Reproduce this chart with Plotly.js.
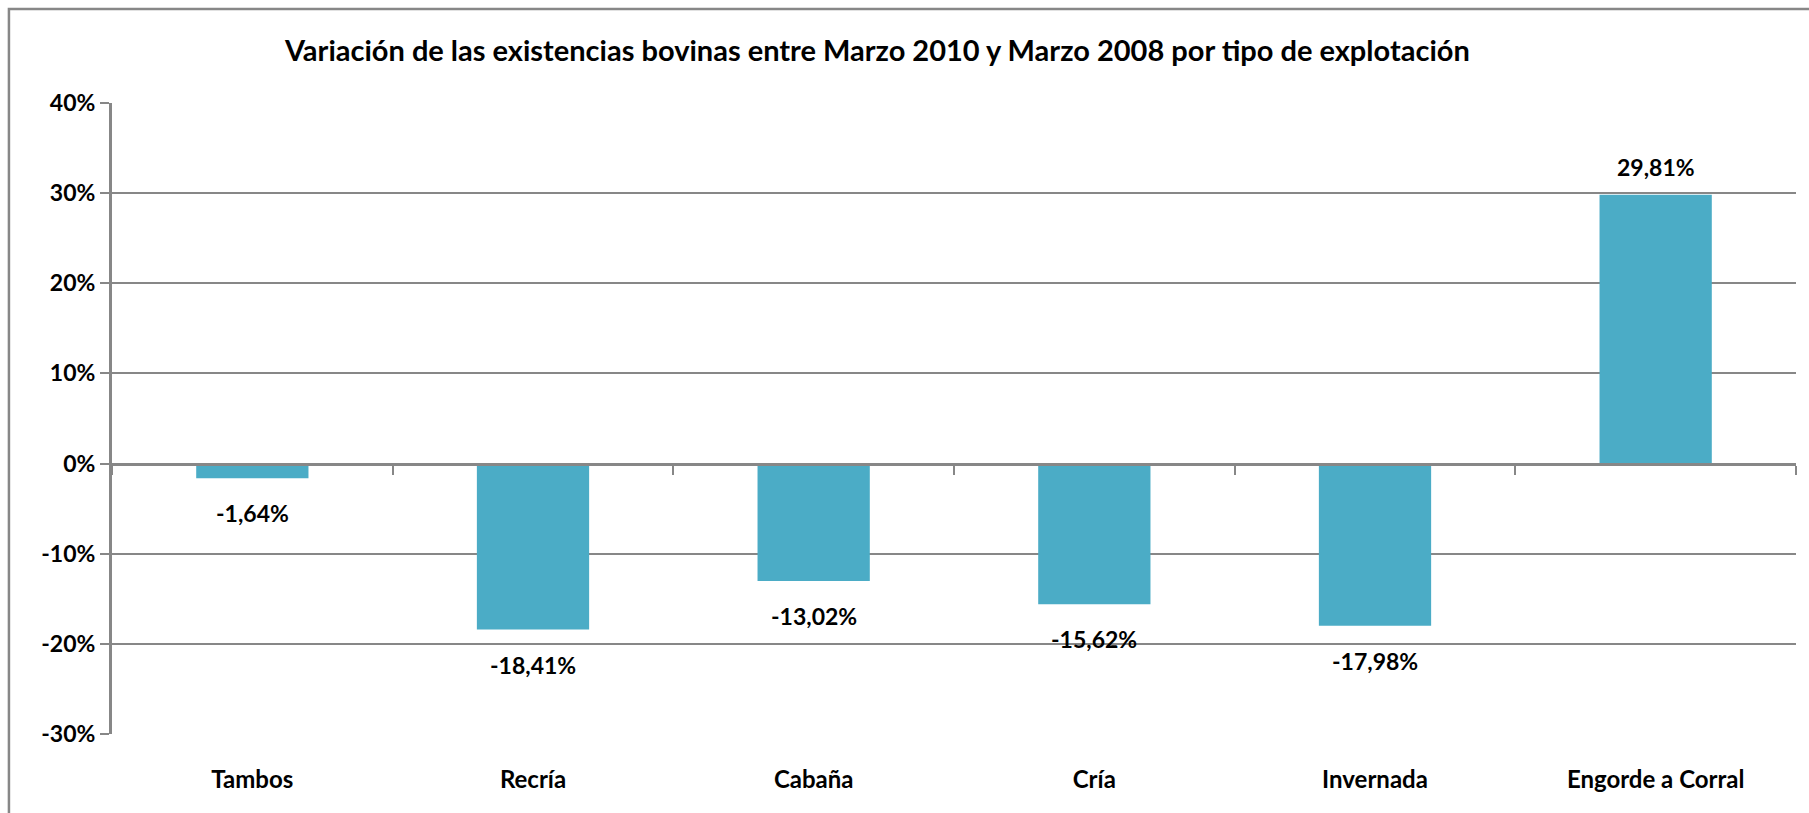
<!DOCTYPE html>
<html>
<head>
<meta charset="utf-8">
<script src="https://cdn.plot.ly/plotly-3.0.1.min.js"></script>
<style>html,body{margin:0;padding:0;background:#fff;}#chart{width:1809px;height:813px;}</style>
</head>
<body>
<div id="chart"></div>
<script>
const categories = ["Tambos", "Recría", "Cabaña", "Cría", "Invernada", "Engorde a Corral"];
const variation = [-1.64, -18.41, -13.02, -15.62, -17.98, 29.81];
const yTickVals = [-30, -20, -10, 0, 10, 20, 30, 40];
const yTickText = ["-30%", "-20%", "-10%", "0%", "10%", "20%", "30%", "40%"];
const titleText = "Variación de las existencias bovinas entre Marzo 2010 y Marzo 2008 por tipo de explotación";

const FONT = "Lato, 'Open Sans', sans-serif";
const GRID = "#878787";

const fmt = v => v.toFixed(2).replace(".", ",") + "%";

const annotations = categories.map((c, i) => ({
  x: c, y: variation[i], xref: "x", yref: "y",
  text: fmt(variation[i]),
  showarrow: false,
  yanchor: variation[i] < 0 ? "top" : "bottom",
  yshift: variation[i] < 0 ? -19 : 12,
  font: {family: FONT, size: 23, color: "#000", weight: "bold"}
}));

const data = [{
  type: "bar",
  x: categories,
  y: variation,
  marker: {color: "#4BACC6"},
  hoverinfo: "x+y"
}, {
  type: "scatter", x: categories, y: variation.map(() => null), xaxis: "x2", yaxis: "y",
  showlegend: false, hoverinfo: "skip"
}];

const layout = {
  width: 1809, height: 813,
  margin: {l: 112, r: 13, t: 103, b: 79},
  paper_bgcolor: "#fff", plot_bgcolor: "#fff",
  showlegend: false,
  bargap: 0.6,
  title: {
    text: titleText,
    x: 0.485, xanchor: "center", y: 0.938, yanchor: "middle",
    font: {family: FONT, size: 29, color: "#000", weight: "bold"}
  },
  xaxis: {
    type: "category",
    categoryarray: categories,
    showgrid: false, zeroline: false, showline: false,
    ticks: "", ticklabelstandoff: 29,
    tickfont: {family: FONT, size: 24, color: "#000", weight: "bold"},
    range: [-0.5, categories.length - 0.5]
  },
  xaxis2: {
    type: "category", overlaying: "x", anchor: "free", position: 3/7,
    categoryarray: categories,
    range: [-0.5, categories.length - 0.5],
    showgrid: false, zeroline: false,
    showline: true, linecolor: GRID, linewidth: 3,
    ticks: "outside", tickson: "boundaries", ticklen: 9, tickwidth: 2, tickcolor: GRID,
    showticklabels: false, side: "bottom"
  },
  yaxis: {
    range: [-30, 40],
    tickvals: yTickVals, ticktext: yTickText,
    showgrid: true, gridcolor: GRID, gridwidth: 2,
    zeroline: false,
    showline: true, linecolor: GRID, linewidth: 3,
    ticks: "outside", ticklen: 9, tickwidth: 2, tickcolor: GRID,
    tickfont: {family: FONT, size: 23, color: "#000", weight: "bold"}
  },
  annotations: annotations,
  shapes: [{
    type: "rect", xref: "paper", yref: "paper",
    x0: -0.0612, x1: 1.05, y0: -0.3, y1: 1.149,
    line: {color: GRID, width: 2.5}, fillcolor: "rgba(0,0,0,0)", layer: "below"
  }]
};

Plotly.newPlot("chart", data, layout, {displayModeBar: false, staticPlot: true});
</script>
</body>
</html>
